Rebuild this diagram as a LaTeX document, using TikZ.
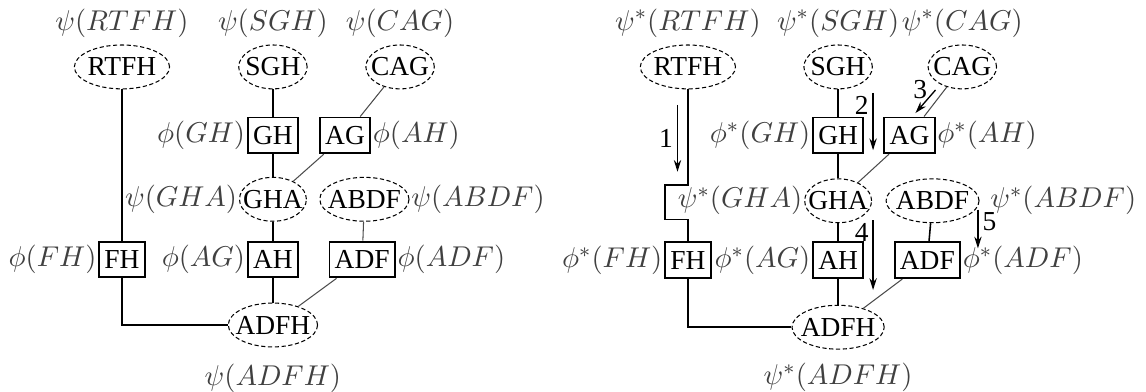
\documentclass[tikz,border=0pt]{standalone}
\usepackage{amsmath}
\usepackage{fontspec}
\setmainfont{Liberation Serif}
\usetikzlibrary{arrows.meta,positioning,shapes.geometric}

\begin{document}
\begin{tikzpicture}[
  font=\fontsize{10.5}{12}\selectfont,
  clique/.style={ellipse, draw, dash pattern=on 1.6pt off 1pt, thin, inner xsep=-4pt, inner ysep=0pt, minimum height=0.59cm, minimum width=#1},
  clique/.default=0.92cm,
  sepset/.style={rectangle, draw, line width=0.75pt, inner xsep=2pt, inner ysep=0pt, minimum height=0.48cm},
  lbl/.style={font=\fontsize{10.95}{13}\selectfont, text=black!75, inner sep=0.5pt},
  link/.style={line width=0.6pt},
  thinlink/.style={black!70, line width=0.4pt},
  msg/.style={line width=0.5pt, -{Stealth[length=4.5pt, width=2.8pt]}},
  num/.style={inner sep=1.5pt}
]
\useasboundingbox (0,0) rectangle (15.41,-5.26);

% left tree: potentials before propagation
\node[clique=1.28cm] (rtfh) at (1.64,-0.90) {RTFH};
\node[clique] (sgh) at (3.67,-0.90) {SGH};
\node[clique] (cag) at (5.38,-0.90) {CAG};
\node[sepset] (gh) at (3.67,-1.82) {GH};
\node[sepset] (ag) at (4.64,-1.82) {AG};
\node[clique=0.90cm] (gha) at (3.67,-2.68) {GHA};
\node[clique=1.20cm] (abdf) at (4.90,-2.68) {ABDF};
\node[sepset] (fh) at (1.64,-3.49) {FH};
\node[sepset] (ah) at (3.67,-3.49) {AH};
\node[sepset] (adf) at (4.87,-3.49) {ADF};
\node[clique=1.20cm] (adfh) at (3.67,-4.37) {ADFH};

\node[lbl, above=0.07cm of rtfh] {$\psi(RTFH)$};
\node[lbl, above=0.07cm of sgh] {$\psi(SGH)$};
\node[lbl, above=0.07cm of cag] {$\psi(CAG)$};
\node[lbl, left=0pt of gh] {$\phi(GH)$};
\node[lbl, right=0pt of ag] {$\phi(AH)$};
\node[lbl, left=0pt of gha] {$\psi(GHA)$};
\node[lbl, right=0pt of abdf] {$\psi(ABDF)$};
\node[lbl, left=0pt of fh] {$\phi(FH)$};
\node[lbl, left=0pt of ah] {$\phi(AG)$};
\node[lbl, right=0pt of adf] {$\phi(ADF)$};
\node[lbl, below=0.2cm of adfh] {$\psi(ADFH)$};

\draw[link] (rtfh) -- (fh);
\draw[link] (fh) |- (adfh);
\foreach \a/\b in {sgh/gh, gh/gha, gha/ah, ah/adfh} \draw[link] (\a) -- (\b);
\foreach \a/\b in {cag/ag, ag/gha, abdf/adf, adf/adfh} \draw[thinlink] (\a) -- (\b);

% right tree: potentials after propagation
\node[clique=1.28cm] (rtfh2) at (9.25,-0.90) {RTFH};
\node[clique] (sgh2) at (11.27,-0.90) {SGH};
\node[clique] (cag2) at (12.94,-0.90) {CAG};
\node[sepset] (gh2) at (11.27,-1.82) {GH};
\node[sepset] (ag2) at (12.23,-1.82) {AG};
\node[clique=0.90cm] (gha2) at (11.27,-2.70) {GHA};
\node[clique=1.25cm] (abdf2) at (12.54,-2.70) {ABDF};
\node[sepset] (fh2) at (9.25,-3.50) {FH};
\node[sepset] (ah2) at (11.27,-3.50) {AH};
\node[sepset] (adf2) at (12.47,-3.50) {ADF};
\node[clique=1.24cm] (adfh2) at (11.27,-4.40) {ADFH};

\node[lbl, above=0.07cm of rtfh2] {$\psi^*(RTFH)$};
\node[lbl, above=0.07cm of sgh2] {$\psi^*(SGH)$};
\node[lbl, above=0.07cm of cag2] {$\psi^*(CAG)$};
\node[lbl, left=0pt of gh2] {$\phi^*(GH)$};
\node[lbl, right=0pt of ag2] {$\phi^*(AH)$};
\node[lbl, left=0pt of gha2] {$\psi^*(GHA)$};
\node[lbl, right=0.12cm of abdf2] {$\psi^*(ABDF)$};
\node[lbl, left=0pt of fh2] {$\phi^*(FH)$};
\node[lbl, left=0pt of ah2] {$\phi^*(AG)$};
\node[lbl, right=0pt of adf2] {$\phi^*(ADF)$};
\node[lbl, below=0.16cm of adfh2] {$\psi^*(ADFH)$};

\coordinate (j1) at (8.94,-2.49);
\coordinate (j2) at (8.94,-2.95);
\draw[link] (rtfh2) |- (j1) -- (j2) -| (fh2);
\draw[link] (fh2) |- (adfh2);
\foreach \a/\b in {sgh2/gh2, gh2/gha2, gha2/ah2, ah2/adfh2, abdf2/adf2} \draw[link] (\a) -- (\b);
\foreach \a/\b in {cag2/ag2, ag2/gha2, adf2/adfh2} \draw[thinlink] (\a) -- (\b);

% message passing order
\coordinate (m1a) at (9.11,-1.41); \coordinate (m1b) at (9.11,-2.31);
\coordinate (m2a) at (11.74,-1.25); \coordinate (m2b) at (11.74,-2.02);
\coordinate (m3a) at (12.58,-1.21); \coordinate (m3b) at (12.31,-1.52);
\coordinate (m4a) at (11.74,-2.96); \coordinate (m4b) at (11.74,-3.90);
\coordinate (m5a) at (13.15,-2.82); \coordinate (m5b) at (13.15,-3.34);
\draw[msg] (m1a) -- node[num, left] {1} (m1b);
\draw[msg] (m2a) -- node[num, left, pos=0.22] {2} (m2b);
\draw[msg] (m3a) -- node[num, left, pos=0, inner sep=3pt] {3} (m3b);
\draw[msg] (m4a) -- node[num, left, pos=0.17] {4} (m4b);
\draw[msg] (m5a) -- node[num, right, pos=0.32] {5} (m5b);
\end{tikzpicture}
\end{document}
